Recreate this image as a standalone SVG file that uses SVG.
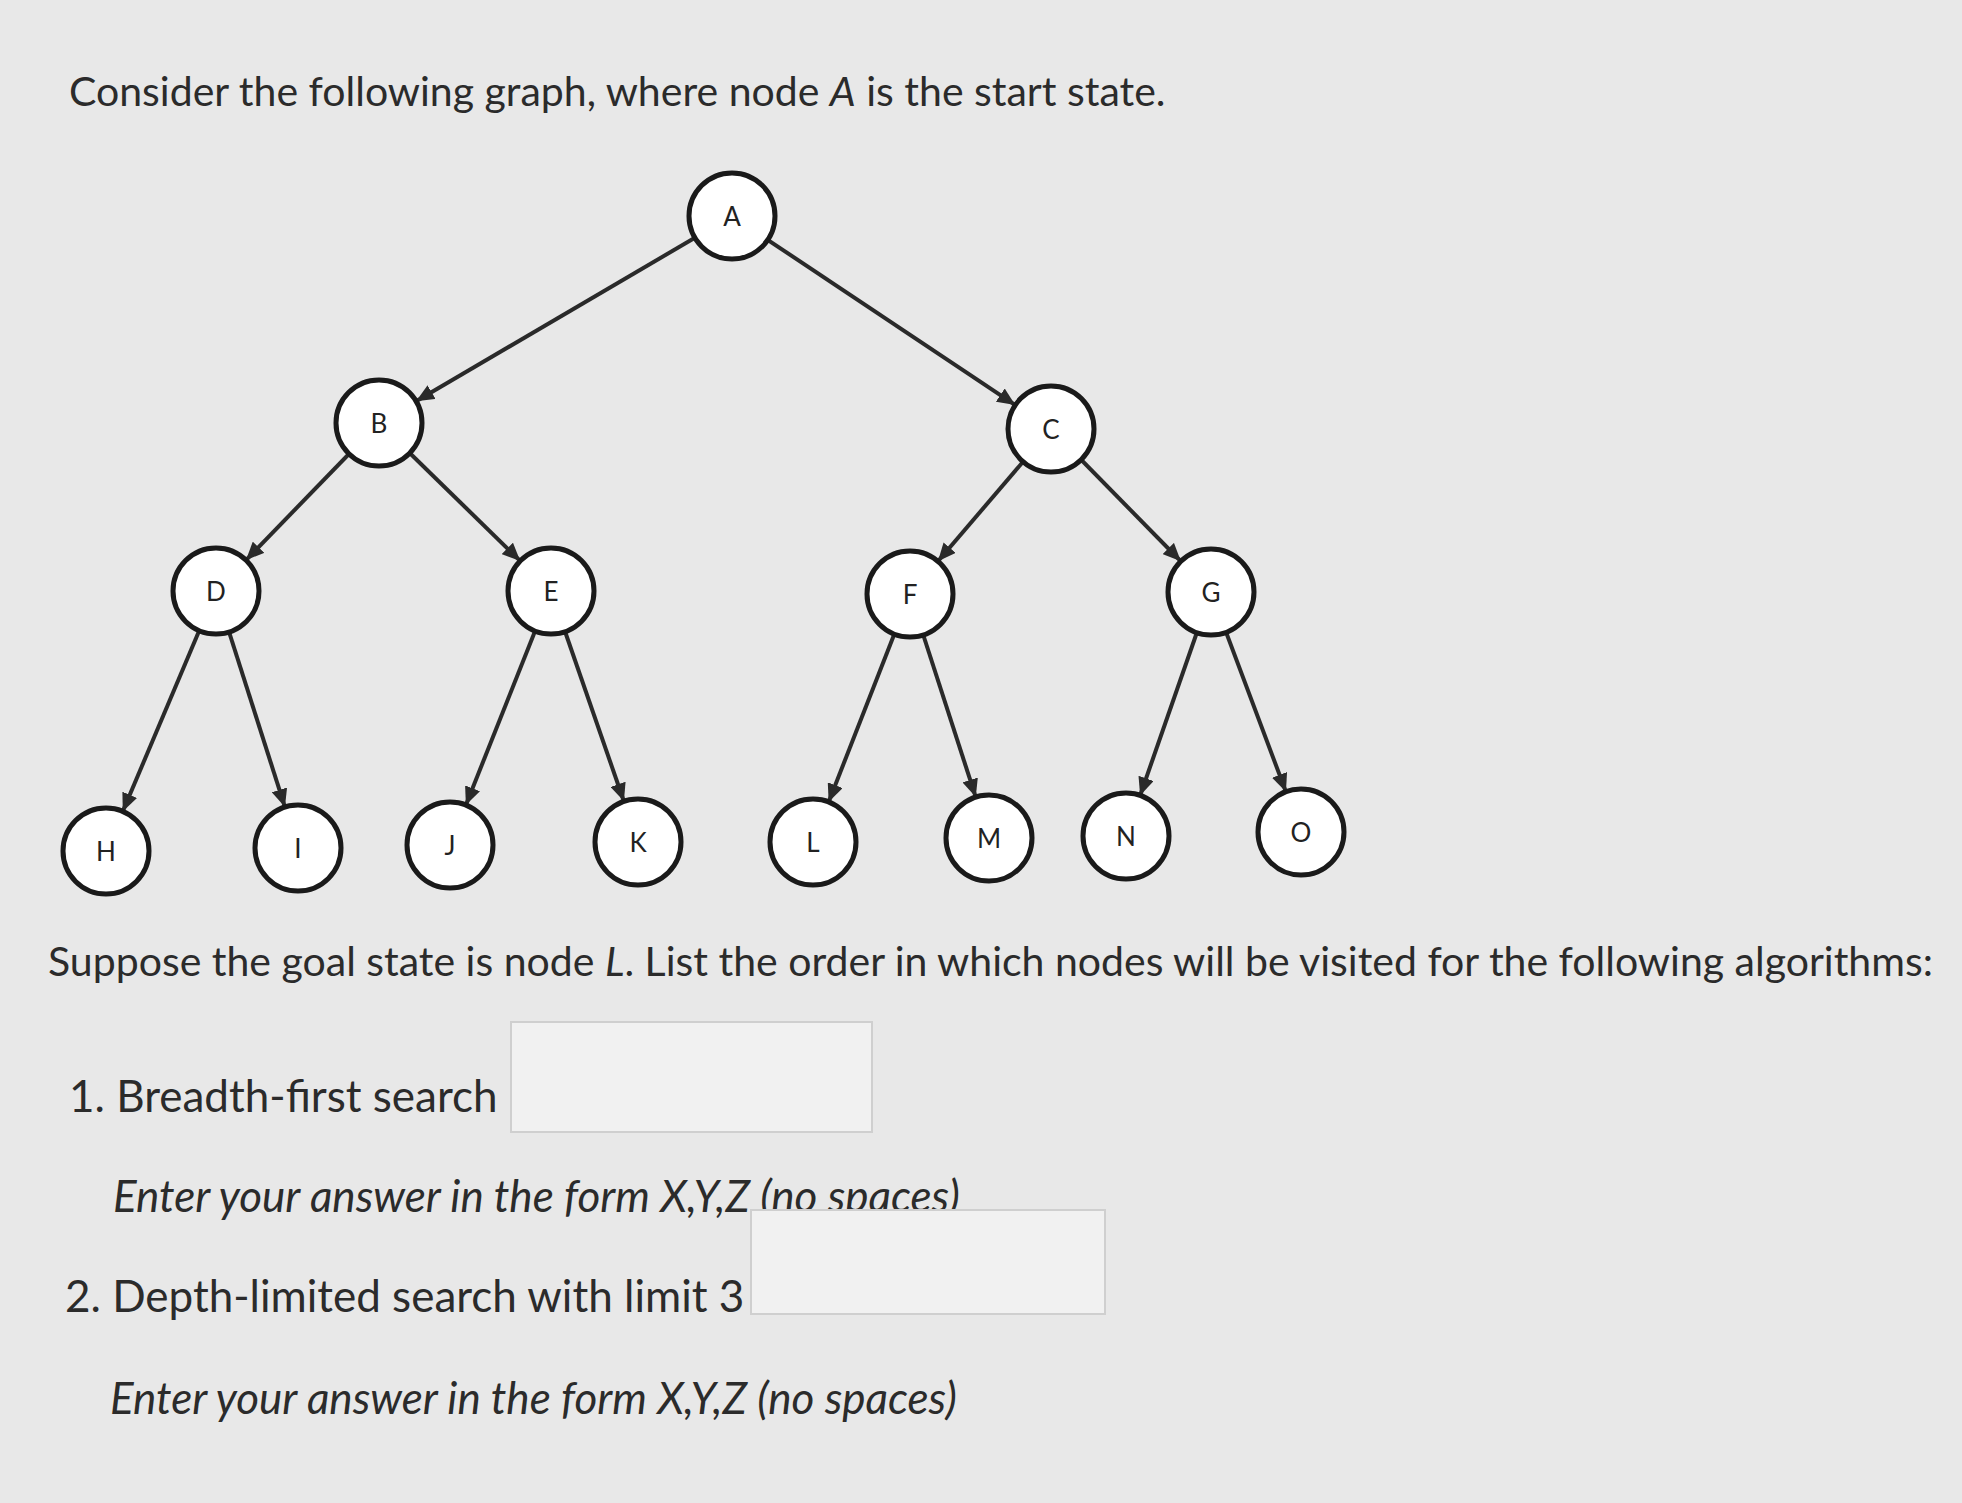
<svg xmlns="http://www.w3.org/2000/svg" width="1962" height="1503" viewBox="0 0 1962 1503">
<style>
.n circle{fill:#fff;stroke:#1a1a1a;stroke-width:5}
.n text{font-family:Lato,"Liberation Sans",sans-serif;font-size:26px;fill:#222;text-anchor:middle;dominant-baseline:central}
.e line{stroke:#2a2a2a;stroke-width:4}
.t{font-family:Lato,"Liberation Sans",sans-serif;font-size:41px;fill:#2b2b2b}
.b{font-size:44px}
.i{font-style:italic}
.box{fill:#f1f1f1;stroke:#cfcfcf;stroke-width:2}
</style>
<defs>
<marker id="ar" markerUnits="userSpaceOnUse" markerWidth="70" markerHeight="16" refX="61" refY="8" orient="auto"><path d="M0,0 L18,8 L0,16 z" fill="#2a2a2a"/></marker>
</defs>
<rect width="1962" height="1503" fill="#e8e8e8"/>
<text class="t" x="69" y="106">Consider the following graph, where node <tspan class="i">A</tspan> is the start state.</text>
<g class="e">
<line x1="732" y1="216" x2="379" y2="423" marker-end="url(#ar)"/>
<line x1="732" y1="216" x2="1051" y2="429" marker-end="url(#ar)"/>
<line x1="379" y1="423" x2="216" y2="591" marker-end="url(#ar)"/>
<line x1="379" y1="423" x2="551" y2="591" marker-end="url(#ar)"/>
<line x1="1051" y1="429" x2="910" y2="594" marker-end="url(#ar)"/>
<line x1="1051" y1="429" x2="1211" y2="592" marker-end="url(#ar)"/>
<line x1="216" y1="591" x2="106" y2="851" marker-end="url(#ar)"/>
<line x1="216" y1="591" x2="298" y2="848" marker-end="url(#ar)"/>
<line x1="551" y1="591" x2="450" y2="845" marker-end="url(#ar)"/>
<line x1="551" y1="591" x2="638" y2="842" marker-end="url(#ar)"/>
<line x1="910" y1="594" x2="813" y2="842" marker-end="url(#ar)"/>
<line x1="910" y1="594" x2="989" y2="838" marker-end="url(#ar)"/>
<line x1="1211" y1="592" x2="1126" y2="836" marker-end="url(#ar)"/>
<line x1="1211" y1="592" x2="1301" y2="832" marker-end="url(#ar)"/>
</g>
<g id="nA" class="n"><circle cx="732" cy="216" r="43"/><text x="732" y="216">A</text></g>
<g id="nB" class="n"><circle cx="379" cy="423" r="43"/><text x="379" y="423">B</text></g>
<g id="nC" class="n"><circle cx="1051" cy="429" r="43"/><text x="1051" y="429">C</text></g>
<g id="nD" class="n"><circle cx="216" cy="591" r="43"/><text x="216" y="591">D</text></g>
<g id="nE" class="n"><circle cx="551" cy="591" r="43"/><text x="551" y="591">E</text></g>
<g id="nF" class="n"><circle cx="910" cy="594" r="43"/><text x="910" y="594">F</text></g>
<g id="nG" class="n"><circle cx="1211" cy="592" r="43"/><text x="1211" y="592">G</text></g>
<g id="nH" class="n"><circle cx="106" cy="851" r="43"/><text x="106" y="851">H</text></g>
<g id="nI" class="n"><circle cx="298" cy="848" r="43"/><text x="298" y="848">I</text></g>
<g id="nJ" class="n"><circle cx="450" cy="845" r="43"/><text x="450" y="845">J</text></g>
<g id="nK" class="n"><circle cx="638" cy="842" r="43"/><text x="638" y="842">K</text></g>
<g id="nL" class="n"><circle cx="813" cy="842" r="43"/><text x="813" y="842">L</text></g>
<g id="nM" class="n"><circle cx="989" cy="838" r="43"/><text x="989" y="838">M</text></g>
<g id="nN" class="n"><circle cx="1126" cy="836" r="43"/><text x="1126" y="836">N</text></g>
<g id="nO" class="n"><circle cx="1301" cy="832" r="43"/><text x="1301" y="832">O</text></g>
<text class="t" x="48" y="976">Suppose the goal state is node <tspan class="i">L</tspan>. List the order in which nodes will be visited for the following algorithms:</text>
<text class="t b" x="69" y="1112">1. Breadth-first search</text>
<rect class="box" x="511" y="1022" width="361" height="110"/>
<text class="t b i" x="113" y="1212">Enter your answer in the form X,Y,Z (no spaces)</text>
<text class="t b" x="65" y="1312">2. Depth-limited search with limit 3</text>
<rect class="box" x="751" y="1210" width="354" height="104"/>
<text class="t b i" x="110" y="1414">Enter your answer in the form X,Y,Z (no spaces)</text>
</svg>
